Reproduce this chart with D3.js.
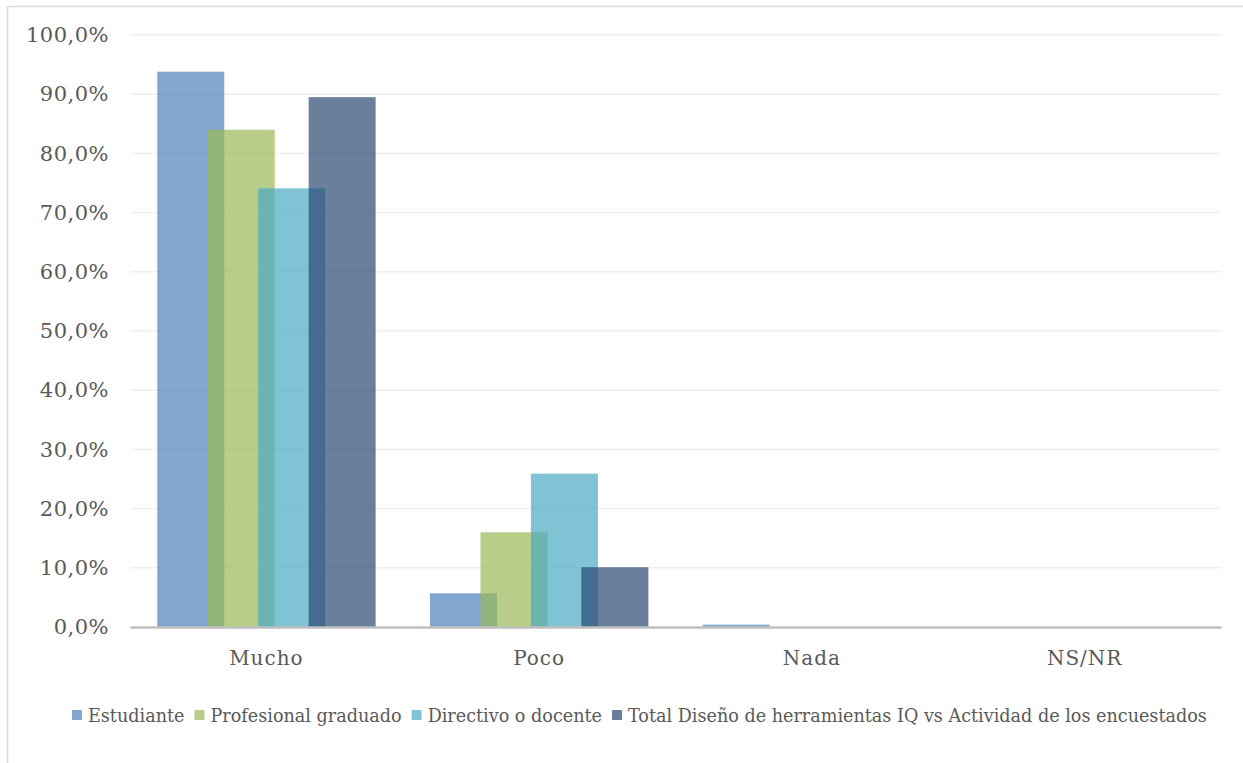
<!DOCTYPE html>
<html><head><meta charset="utf-8">
<script src="https://cdn.jsdelivr.net/npm/d3@7"></script>
<style>body{margin:0;background:#fff;} svg{display:block;}</style>
</head><body>
<svg id="chart" width="1243" height="763"></svg>
<script>
const categories = ["Mucho", "Poco", "Nada", "NS/NR"];
const seriesNames = ["Estudiante", "Profesional graduado", "Directivo o docente", "Total Diseño de herramientas IQ vs Actividad de los encuestados"];
const estudiante = [93.8, 5.7, 0.4, 0];
const profesional = [84.0, 16.0, 0, 0];
const directivo = [74.1, 25.9, 0, 0];
const total = [89.5, 10.1, 0, 0];
const yTicks = [0, 10, 20, 30, 40, 50, 60, 70, 80, 90, 100];
const colors = ["#4c80ba", "#9ab956", "#49aac3", "#2a4872"];

const seriesValues = [estudiante, profesional, directivo, total];
const svg = d3.select("#chart");
const W = 1243, H = 763;
const margin = {left: 130, right: 22, top: 35, bottom: 136};
const plotW = W - margin.left - margin.right, plotH = H - margin.top - margin.bottom;
const font = "'DejaVu Serif', serif";
const textColor = "#595959";

// chart border
svg.append("rect").attr("x", 7.5).attr("y", 6.5).attr("width", 1300).attr("height", 900)
  .attr("fill", "none").attr("stroke", "#d9d9d9").attr("stroke-width", 1.5);

const g = svg.append("g").attr("transform", `translate(${margin.left},${margin.top})`);
const x = d3.scaleBand().domain(categories).range([0, plotW]).padding(0);
const y = d3.scaleLinear().domain([0, 100]).range([plotH, 0]);

// gridlines
g.append("g").selectAll("line").data(yTicks.filter(t => t > 0)).join("line")
  .attr("x1", 0).attr("x2", plotW).attr("y1", d => y(d)).attr("y2", d => y(d))
  .attr("stroke", "#efefef").attr("stroke-width", 1.5);

// y axis labels
const yAxis = d3.axisLeft(y).tickValues(yTicks).tickSize(0).tickPadding(21)
  .tickFormat(d => d3.format(".1f")(d).replace(".", ",") + "%");
const ya = g.append("g").call(yAxis);
ya.select(".domain").remove();
ya.selectAll("text").attr("font-family", font).attr("font-size", 21).attr("fill", textColor)
  .attr("letter-spacing", "0.5px");

// bars
const bw = x.bandwidth();
const barW = bw * 0.2456, step = bw * 0.185, inset = bw * 0.1;
seriesValues.forEach((vals, si) => {
  g.append("g").selectAll("rect").data(categories.map((c, i) => ({c, v: vals[i]}))).join("rect")
    .attr("x", d => x(d.c) + inset + si * step)
    .attr("y", d => y(d.v))
    .attr("width", barW)
    .attr("height", d => y(0) - y(d.v))
    .attr("fill", colors[si]).attr("fill-opacity", 0.7);
});

// x axis
const xAxis = d3.axisBottom(x).tickSize(0).tickPadding(34);
const xa = g.append("g").attr("transform", `translate(0,${plotH})`).call(xAxis);
xa.select(".domain").attr("stroke", "#bfbfbf").attr("stroke-width", 2.5);
xa.selectAll("text").attr("font-family", font).attr("font-size", 20).attr("fill", textColor)
  .attr("letter-spacing", "1px").attr("dy", "0.2em");

// legend
const leg = svg.append("g");
let lx = 72;
const ly = 722;
seriesNames.forEach((name, i) => {
  leg.append("rect").attr("x", lx).attr("y", ly - 12).attr("width", 10).attr("height", 10)
    .attr("fill", colors[i]).attr("fill-opacity", 0.7);
  const t = leg.append("text").attr("x", lx + 16).attr("y", ly).text(name)
    .attr("font-family", font).attr("font-size", 17.6).attr("fill", textColor);
  lx += 16 + t.node().getComputedTextLength() + 10;
});
</script>
</body></html>
